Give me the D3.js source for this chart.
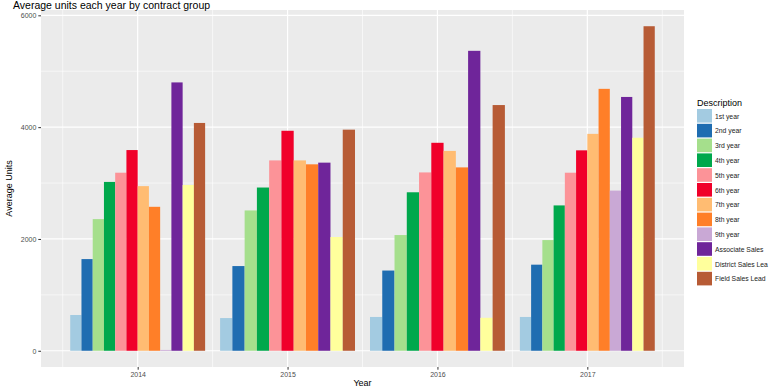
<!DOCTYPE html>
<html>
<head>
<meta charset="utf-8">
<script src="https://cdn.jsdelivr.net/npm/d3@7"></script>
<style>
  body { margin: 0; background: #fff; }
  svg { display: block; font-family: "Liberation Sans", Arial, sans-serif; }
  .tick text { fill: #4d4d4d; font-size: 7px; }
  .tick line { stroke: #333; }
  .axis-label { fill: #000; font-size: 9px; }
  .title { fill: #000; font-size: 10.5px; }
  .legend-text { fill: #222; font-size: 6.8px; }
</style>
</head>
<body>
<svg width="770" height="387"></svg>
<script>
const svg = d3.select('svg');

// data
const years = [2014, 2015, 2016, 2017];
const groups = ['1st year', '2nd year', '3rd year', '4th year', '5th year', '6th year',
  '7th year', '8th year', '9th year', 'Associate Sales', 'District Sales Lead', 'Field Sales Lead'];
const legendLabels = ['1st year', '2nd year', '3rd year', '4th year', '5th year', '6th year',
  '7th year', '8th year', '9th year', 'Associate Sales', 'District Sales Lea', 'Field Sales Lead'];
// null = group absent that year
const units2014 = [640, 1640, 2355, 3020, 3185, 3590, 2945, 2575, 15, 4800, 2965, 4075];
const units2015 = [585, 1515, 2510, 2920, 3405, 3935, 3405, 3335, null, 3365, 2035, 3955];
const units2016 = [605, 1435, 2070, 2835, 3190, 3720, 3575, 3280, null, 5365, 590, 4395];
const units2017 = [605, 1540, 1980, 2600, 3185, 3585, 3880, 4685, 2865, 4540, 3810, 5805];
const colors = ['#a3cbe1', '#1f6db1', '#a5df8c', '#00a84c', '#fc9398', '#f0002a',
  '#ffbc72', '#ff7f28', '#c9a8d5', '#6f259a', '#ffff9c', '#b75b35'];
const yTicks = [0, 2000, 4000, 6000];

const unitsByYear = [units2014, units2015, units2016, units2017];
const data = [];
years.forEach((year, i) => {
  const present = groups.map((g, j) => ({year, group: g, idx: j, value: unitsByYear[i][j]}))
    .filter(d => d.value !== null);
  present.forEach((d, k) => { d.k = k; d.n = present.length; data.push(d); });
});

const panel = {left: 41, right: 684, top: 10, bottom: 367};

// continuous x with ggplot-like 5% expansion
const xLo = d3.min(years) - 0.45, xHi = d3.max(years) + 0.45;
const xPad = (xHi - xLo) * 0.05;
const xScale = d3.scaleLinear()
  .domain([xLo - xPad, xHi + xPad])
  .range([panel.left, panel.right]);

const yMax = d3.max(data, d => d.value);
const yPad = yMax * 0.05;
const yScale = d3.scaleLinear()
  .domain([-yPad, yMax + yPad])
  .range([panel.bottom, panel.top]);

const color = d3.scaleOrdinal().domain(groups).range(colors);

// panel background
svg.append('rect')
  .attr('x', panel.left).attr('y', panel.top)
  .attr('width', panel.right - panel.left).attr('height', panel.bottom - panel.top)
  .attr('fill', '#ebebeb');

const grid = svg.append('g');
// minor grid
const xMinor = years.map(y => y - 0.5).concat([d3.max(years) + 0.5]);
const yMinor = [1000, 3000, 5000];
grid.selectAll('.xminor').data(xMinor).join('line')
  .attr('x1', d => xScale(d)).attr('x2', d => xScale(d))
  .attr('y1', panel.top).attr('y2', panel.bottom)
  .attr('stroke', '#fff').attr('stroke-width', 0.6);
grid.selectAll('.yminor').data(yMinor).join('line')
  .attr('y1', d => yScale(d)).attr('y2', d => yScale(d))
  .attr('x1', panel.left).attr('x2', panel.right)
  .attr('stroke', '#fff').attr('stroke-width', 0.6);
// major grid
grid.selectAll('.xmajor').data(years).join('line')
  .attr('x1', d => xScale(d)).attr('x2', d => xScale(d))
  .attr('y1', panel.top).attr('y2', panel.bottom)
  .attr('stroke', '#fff').attr('stroke-width', 1.2);
grid.selectAll('.ymajor').data(yTicks).join('line')
  .attr('y1', d => yScale(d)).attr('y2', d => yScale(d))
  .attr('x1', panel.left).attr('x2', panel.right)
  .attr('stroke', '#fff').attr('stroke-width', 1.2);

// bars, dodged within 0.9 width per year
const barW = 0.9;
svg.append('g').selectAll('rect').data(data).join('rect')
  .attr('x', d => xScale(d.year - barW / 2 + d.k * barW / d.n))
  .attr('width', d => xScale(barW / d.n) - xScale(0))
  .attr('y', d => yScale(d.value))
  .attr('height', d => yScale(0) - yScale(d.value))
  .attr('fill', d => color(d.group));

// axes
const xAxis = d3.axisBottom(xScale)
  .tickValues(years)
  .tickFormat(d3.format('d'))
  .tickSize(2.7)
  .tickPadding(2);
const yAxis = d3.axisLeft(yScale)
  .tickValues(yTicks)
  .tickFormat(d3.format('d'))
  .tickSize(2.7)
  .tickPadding(2);

const xAxisG = svg.append('g')
  .attr('transform', `translate(0, ${panel.bottom})`)
  .call(xAxis);
xAxisG.select('.domain').remove();

const yAxisG = svg.append('g')
  .attr('transform', `translate(${panel.left}, 0)`)
  .call(yAxis);
yAxisG.select('.domain').remove();

svg.append('text')
  .attr('class', 'axis-label')
  .attr('x', (panel.left + panel.right) / 2)
  .attr('y', 386)
  .attr('text-anchor', 'middle')
  .text('Year');

svg.append('text')
  .attr('class', 'axis-label')
  .attr('transform', `translate(12, ${(panel.top + panel.bottom) / 2}) rotate(-90)`)
  .attr('text-anchor', 'middle')
  .text('Average Units');

svg.append('text')
  .attr('class', 'title')
  .attr('x', 13)
  .attr('y', 8.5)
  .text('Average units each year by contract group');

// legend
const legend = svg.append('g').attr('transform', 'translate(697, 0)');
legend.append('text')
  .attr('class', 'axis-label')
  .attr('x', 0).attr('y', 106)
  .text('Description');
const rowH = 14.8;
const items = legend.selectAll('g.item').data(groups).join('g')
  .attr('class', 'item')
  .attr('transform', (d, i) => `translate(0, ${109 + i * rowH})`);
items.append('rect')
  .attr('width', 15).attr('height', 13.6)
  .attr('fill', d => color(d));
items.append('text')
  .attr('class', 'legend-text')
  .attr('x', 18).attr('y', 9.5)
  .text((d, i) => legendLabels[i]);
</script>
</body>
</html>
